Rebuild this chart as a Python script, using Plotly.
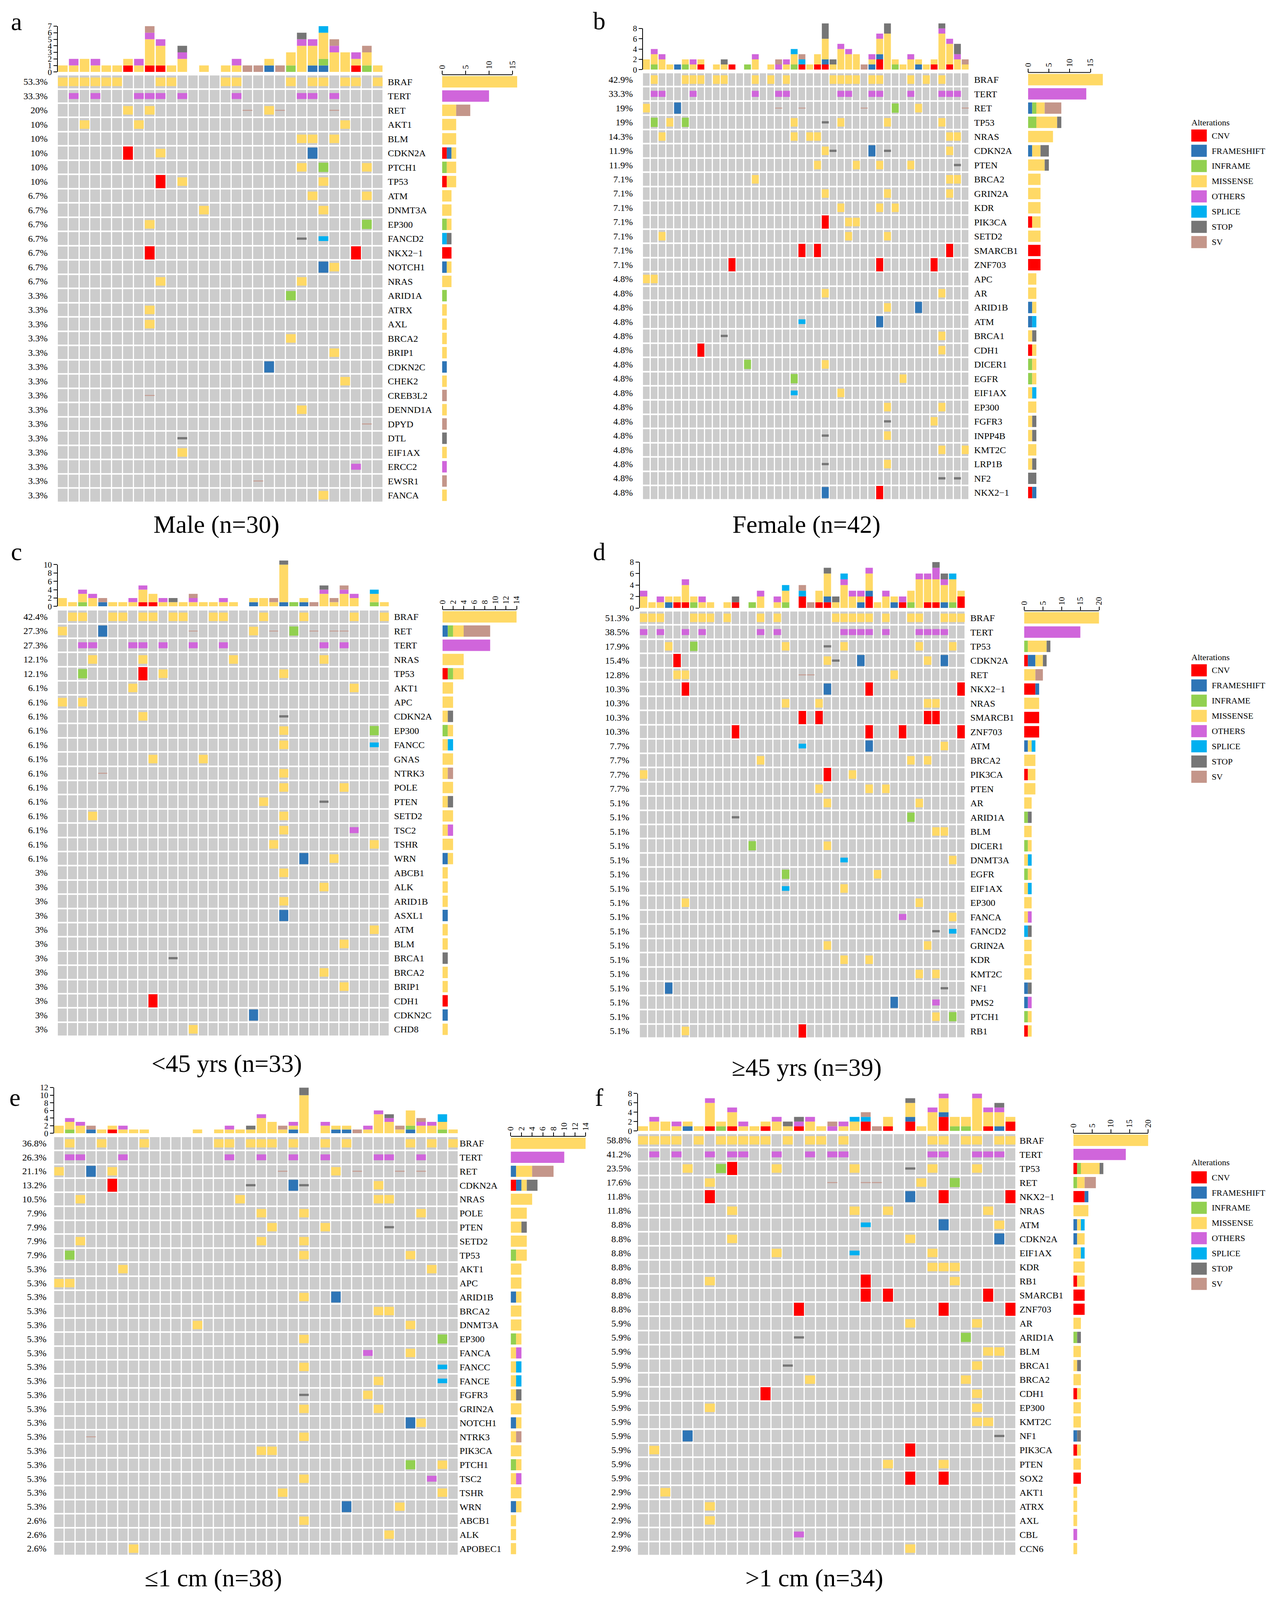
import plotly.graph_objects as go

W, H = 3287, 4727  # reference design size in px (positions below are given in these px)
FONT = "Liberation Serif"

# ---------------- alteration types ----------------
CODES = ["C", "F", "I", "M", "O", "P", "S", "V"]
TYPE_NAMES = ["CNV", "FRAMESHIFT", "INFRAME", "MISSENSE", "OTHERS", "SPLICE", "STOP", "SV"]
TYPE_COLORS = ["#FF0000", "#2E75B6", "#92D050", "#FFD966", "#D065DB", "#00B0F0", "#767676", "#C4968A"]
CELL_HEIGHTS = [0.93, 0.78, 0.65, 0.6, 0.42, 0.33, 0.16, 0.06]
GREY = "#CCCCCC"

# ---------------- panel a : Male ----------------
a_n = 30
a_genes = ["BRAF", "TERT", "RET", "AKT1", "BLM", "CDKN2A", "PTCH1", "TP53", "ATM", "DNMT3A",
           "EP300", "FANCD2", "NKX2\u22121", "NOTCH1", "NRAS", "ARID1A", "ATRX", "AXL", "BRCA2", "BRIP1",
           "CDKN2C", "CHEK2", "CREB3L2", "DENND1A", "DPYD", "DTL", "EIF1AX", "ERCC2", "EWSR1", "FANCA"]
a_pct = ["53.3%", "33.3%", "20%", "10%", "10%", "10%", "10%", "10%", "6.7%", "6.7%",
         "6.7%", "6.7%", "6.7%", "6.7%", "6.7%", "3.3%", "3.3%", "3.3%", "3.3%", "3.3%",
         "3.3%", "3.3%", "3.3%", "3.3%", "3.3%", "3.3%", "3.3%", "3.3%", "3.3%", "3.3%"]
a_alts = ["M0 M1 M2 M3 M4 M5 M9 M10 M15 M16 M21 M23 M24 M26 M27 M29",
          "O1 O3 O7 O8 O9 O11 O16 O22 O23 O25",
          "M6 M8 V17 M19 V20 V25",
          "M2 M7 M26", "M22 M23 M25", "C6 M9 F23", "M22 I24 M28", "C9 M11 M24",
          "M23 M28", "M13 M24", "M8 I28", "S22 P24", "C8 C27", "F24 M25", "M9 M22",
          "I21", "M8", "M8", "M21", "M25", "F19", "M26", "V8", "M22", "V28", "S11", "M11", "O27", "V18", "M24"]

# ---------------- panel b : Female ----------------
b_n = 42
b_genes = ["BRAF", "TERT", "RET", "TP53", "NRAS", "CDKN2A", "PTEN", "BRCA2", "GRIN2A", "KDR",
           "PIK3CA", "SETD2", "SMARCB1", "ZNF703", "APC", "AR", "ARID1B", "ATM", "BRCA1", "CDH1",
           "DICER1", "EGFR", "EIF1AX", "EP300", "FGFR3", "INPP4B", "KMT2C", "LRP1B", "NF2", "NKX2\u22121"]
b_pct = ["42.9%", "33.3%", "19%", "19%", "14.3%", "11.9%", "11.9%", "7.1%", "7.1%", "7.1%",
         "7.1%", "7.1%", "7.1%", "7.1%", "4.8%", "4.8%", "4.8%", "4.8%", "4.8%", "4.8%",
         "4.8%", "4.8%", "4.8%", "4.8%", "4.8%", "4.8%", "4.8%", "4.8%", "4.8%", "4.8%"]
b_alts = ["M1 M5 M6 M7 M9 M10 M14 M16 M18 M24 M25 M26 M27 M29 M30 M34 M36 M38",
          "O1 O2 O6 O14 O17 O18 O25 O26 O29 O30 O34 O38 O39 O40",
          "M0 F4 V17 V20 V28 I32 M35 V41",
          "I1 M3 I5 M19 S23 M25 M31 M38",
          "M2 M19 M21 M22 M39 M40",
          "M23 S24 F29 S31 M39",
          "M22 M27 M30 M34 S40",
          "M14 M39 M40", "M23 M31 M39", "M25 M30 M32", "C23 M26 M27", "M2 M26 M31",
          "C20 C22 C39", "C11 C30 C37",
          "M0 M1", "M23 M38", "M31 F35", "P20 F30", "S10 M38", "C7 M38", "I13 M23", "I19 M33",
          "P19 M25", "M31 M38", "S31 M37", "S23 M31", "M38 M41", "S23 M31", "S38 S40", "F23 C30"]

# ---------------- panel c : <45 yrs ----------------
c_n = 33
c_genes = ["BRAF", "RET", "TERT", "NRAS", "TP53", "AKT1", "APC", "CDKN2A", "EP300", "FANCC",
           "GNAS", "NTRK3", "POLE", "PTEN", "SETD2", "TSC2", "TSHR", "WRN", "ABCB1", "ALK",
           "ARID1B", "ASXL1", "ATM", "BLM", "BRCA1", "BRCA2", "BRIP1", "CDH1", "CDKN2C", "CHD8"]
c_pct = ["42.4%", "27.3%", "27.3%", "12.1%", "12.1%", "6.1%", "6.1%", "6.1%", "6.1%", "6.1%",
         "6.1%", "6.1%", "6.1%", "6.1%", "6.1%", "6.1%", "6.1%", "6.1%", "3%", "3%",
         "3%", "3%", "3%", "3%", "3%", "3%", "3%", "3%", "3%", "3%"]
c_alts = ["M1 M2 M5 M6 M8 M9 M11 M12 M15 M16 M20 M24 M29 M32",
          "M0 F4 V13 M19 V21 I23 V25 V27 V28",
          "O2 O3 O7 O8 O10 O13 O16 O26 O28",
          "M3 M8 M17 M26", "I2 C8 M10 M22",
          "M7 M29", "M0 M2", "M8 S22", "M22 I31", "M22 P31", "M9 M14", "V4 M22", "M22 M28",
          "M20 S26", "M3 M22", "M22 O29", "M21 M31", "F24 M27",
          "M22", "M26", "M22", "F22", "M31", "M28", "S11", "M26", "M28", "C9", "F19", "M13"]

# ---------------- panel d : >=45 yrs ----------------
d_n = 39
d_genes = ["BRAF", "TERT", "TP53", "CDKN2A", "RET", "NKX2\u22121", "NRAS", "SMARCB1", "ZNF703", "ATM",
           "BRCA2", "PIK3CA", "PTEN", "AR", "ARID1A", "BLM", "DICER1", "DNMT3A", "EGFR", "EIF1AX",
           "EP300", "FANCA", "FANCD2", "GRIN2A", "KDR", "KMT2C", "NF1", "PMS2", "PTCH1", "RB1"]
d_pct = ["51.3%", "38.5%", "17.9%", "15.4%", "12.8%", "10.3%", "10.3%", "10.3%", "10.3%", "7.7%",
         "7.7%", "7.7%", "7.7%", "5.1%", "5.1%", "5.1%", "5.1%", "5.1%", "5.1%", "5.1%",
         "5.1%", "5.1%", "5.1%", "5.1%", "5.1%", "5.1%", "5.1%", "5.1%", "5.1%", "5.1%"]
d_alts = ["M0 M1 M2 M6 M7 M8 M10 M14 M16 M23 M24 M25 M26 M27 M29 M32 M33 M36 M37 M38",
          "O0 O2 O5 O7 O14 O16 O24 O25 O26 O27 O29 O33 O34 O35 O36",
          "M3 I6 M17 S22 M24 M33 M37",
          "C4 M22 S23 F26 M34 F36",
          "M4 M5 V19 V20 M30",
          "C5 F22 C27 C38", "M17 M21 M34 M35", "C19 C21 C34 C35", "C11 C27 C31 C38",
          "P19 F27 M36", "M14 M32 M34", "M0 C22 M25", "M21 M27 M29",
          "M22 M33", "S11 I32", "M35 M36", "I13 M22", "P24 M37", "I17 M28", "P17 M24",
          "M5 M33", "O31 M37", "S35 P37", "M22 M34", "M24 M27", "M33 M35", "F3 S36",
          "F30 O35", "M35 I37", "M5 C19"]

# ---------------- panel e : <=1 cm ----------------
e_n = 38
e_genes = ["BRAF", "TERT", "RET", "CDKN2A", "NRAS", "POLE", "PTEN", "SETD2", "TP53", "AKT1",
           "APC", "ARID1B", "BRCA2", "DNMT3A", "EP300", "FANCA", "FANCC", "FANCE", "FGFR3", "GRIN2A",
           "NOTCH1", "NTRK3", "PIK3CA", "PTCH1", "TSC2", "TSHR", "WRN", "ABCB1", "ALK", "APOBEC1"]
e_pct = ["36.8%", "26.3%", "21.1%", "13.2%", "10.5%", "7.9%", "7.9%", "7.9%", "7.9%", "5.3%",
         "5.3%", "5.3%", "5.3%", "5.3%", "5.3%", "5.3%", "5.3%", "5.3%", "5.3%", "5.3%",
         "5.3%", "5.3%", "5.3%", "5.3%", "5.3%", "5.3%", "5.3%", "2.6%", "2.6%", "2.6%"]
e_alts = ["M1 M4 M8 M15 M16 M18 M19 M20 M22 M25 M27 M33 M35 M37",
          "O1 O2 O6 O16 O19 O22 O25 O30 O31 O34",
          "M0 F3 M5 V21 M26 V28 V32 V34",
          "C5 S18 F22 S23 M30",
          "M2 M17 M30 M31", "M19 M23 M34", "M20 M25 S31", "M2 M19 M23", "I1 M23 M33",
          "M6 M35", "M0 M1", "M23 F26", "M30 M31", "M13 M33", "M23 I36", "O29 M33",
          "M23 P36", "M30 P36", "S23 M29", "M23 M30", "F33 M34", "V3 M23", "M19 M20",
          "I33 M36", "M23 O35", "M21 M36", "F27 M32", "M23", "M31", "M7"]

# ---------------- panel f : >1 cm ----------------
f_n = 34
f_genes = ["BRAF", "TERT", "TP53", "RET", "NKX2\u22121", "NRAS", "ATM", "CDKN2A", "EIF1AX", "KDR",
           "RB1", "SMARCB1", "ZNF703", "AR", "ARID1A", "BLM", "BRCA1", "BRCA2", "CDH1", "EP300",
           "KMT2C", "NF1", "PIK3CA", "PTEN", "SOX2", "AKT1", "ATRX", "AXL", "CBL", "CCN6"]
f_pct = ["58.8%", "41.2%", "23.5%", "17.6%", "11.8%", "11.8%", "8.8%", "8.8%", "8.8%", "8.8%",
         "8.8%", "8.8%", "8.8%", "5.9%", "5.9%", "5.9%", "5.9%", "5.9%", "5.9%", "5.9%",
         "5.9%", "5.9%", "5.9%", "5.9%", "5.9%", "2.9%", "2.9%", "2.9%", "2.9%", "2.9%"]
f_alts = ["M0 M1 M2 M3 M5 M7 M8 M9 M10 M11 M13 M15 M16 M18 M26 M27 M29 M30 M32 M33",
          "O1 O3 O6 O8 O9 O12 O15 O17 O18 O26 O27 O30 O31 O32",
          "M4 I7 C8 M12 M19 S24 M26 M30",
          "M6 V17 V20 V21 M25 I28",
          "C6 F24 C27 C33", "M8 M19 M22 M31", "P20 F27 M32", "M8 M24 F32", "M12 P19 M26",
          "M26 M27 M28", "M6 C20 M28", "C20 C22 C31", "C14 C27 C33",
          "M24 M30", "S14 I29", "M31 M32", "S13 M30", "M15 M29", "C11 M30", "M6 M30",
          "M30 M31", "F4 S32", "M1 C24", "M22 M27", "C24 C27", "M2", "M6", "M6", "O14", "M24"]

# ---------------- placement (reference px) ----------------
PANELS = [
    dict(key="a", n=a_n, genes=a_genes, pct=a_pct, alts=a_alts, title="Male (n=30)",
         mx=(136, 976), my=(208, 1479), tb0=200, tbu=19.43, tbd=1, rbx=1128, rbu=12.1, rbd=5,
         pctx=113, gx=991, lab=(30, 50), tit=(546, 1545)),
    dict(key="b", n=b_n, genes=b_genes, pct=b_pct, alts=b_alts, title="Female (n=42)",
         mx=(1645, 2487), my=(201.5, 1471), tb0=193, tbu=15.3, tbd=2, rbx=2639, rbu=10.73, rbd=5,
         pctx=1622, gx=2503, lab=(1533, 48), tit=(2068, 1545)),
    dict(key="c", n=c_n, genes=c_genes, pct=c_pct, alts=c_alts, title="<45 yrs (n=33)",
         mx=(136, 992), my=(1798, 3066), tb0=1788, tbu=12.4, tbd=2, rbx=1129, rbu=13.66, rbd=2,
         pctx=113, gx=1007, lab=(30, 1626), tit=(573, 3147)),
    dict(key="d", n=d_n, genes=d_genes, pct=d_pct, alts=d_alts, title="\u226545 yrs (n=39)",
         mx=(1637, 2477), my=(1801, 3071), tb0=1793, tbu=17.1, tbd=2, rbx=2629, rbu=9.66, rbd=5,
         pctx=1613, gx=2493, lab=(1533, 1626), tit=(2068, 3158)),
    dict(key="e", n=e_n, genes=e_genes, pct=e_pct, alts=e_alts, title="\u22641 cm (n=38)",
         mx=(126.5, 1170), my=(3363, 4609), tb0=3354, tbu=11.33, tbd=2, rbx=1305, rbu=13.8, rbd=2,
         pctx=110, gx=1176, lab=(26, 3247), tit=(538, 4675)),
    dict(key="f", n=f_n, genes=f_genes, pct=f_pct, alts=f_alts, title=">1 cm (n=34)",
         mx=(1632, 2608), my=(3354, 4609), tb0=3347, tbu=13.9, tbd=2, rbx=2756, rbu=9.65, rbd=5,
         pctx=1617, gx=2620, lab=(1533, 3247), tit=(2088, 4675)),
]
LEGENDS = [(350, 389), (1939, 1978), (3440, 3485)]  # (title y, first item y)


def px(x):
    return x / W


def py(y):
    return 1 - y / H


def aname(letter, i):
    return letter if i == 1 else f"{letter}{i}"


def akey(letter, i):
    return f"{letter}axis" if i == 1 else f"{letter}axis{i}"


fig = go.Figure()
layout = {}
annotations = []
shapes = []
AXLINE = dict(color="black", width=2)

for k, P in enumerate(PANELS):
    n, genes, ng = P["n"], P["genes"], len(P["genes"])
    xt, xm, xr = 3 * k + 1, 3 * k + 2, 3 * k + 3
    yt, ym, yr = 3 * k + 1, 3 * k + 2, 3 * k + 3

    cells = {c: [] for c in CODES}
    colcnt = {c: [0] * n for c in CODES}
    rowcnt = {c: [0] * ng for c in CODES}
    for r, s in enumerate(P["alts"]):
        for tok in s.split():
            code, col = tok[0], int(tok[1:])
            cells[code].append((r, col))
            colcnt[code][col] += 1
            rowcnt[code][r] += 1

    fig.add_trace(go.Heatmap(
        x=list(range(n)), y=list(range(ng)), z=[[1] * n for _ in range(ng)],
        colorscale=[[0, GREY], [1, GREY]], showscale=False, xgap=3, ygap=4,
        hoverinfo="skip", xaxis=aname("x", xm), yaxis=aname("y", ym)))

    for ti, code in enumerate(CODES):
        pts = cells[code]
        if not pts:
            continue
        h = CELL_HEIGHTS[ti]
        fig.add_trace(go.Bar(
            x=[c for r, c in pts], y=[h] * len(pts), base=[r - h / 2 for r, c in pts],
            width=0.9, marker=dict(color=TYPE_COLORS[ti], line=dict(width=0)),
            name=TYPE_NAMES[ti], showlegend=False, hoverinfo="skip",
            xaxis=aname("x", xm), yaxis=aname("y", ym)))

    cum = [0] * n
    for ti, code in enumerate(CODES):
        vals = colcnt[code]
        fig.add_trace(go.Bar(
            x=list(range(n)), y=vals, base=list(cum), width=0.88,
            marker=dict(color=TYPE_COLORS[ti], line=dict(width=0)),
            showlegend=False, hoverinfo="skip",
            xaxis=aname("x", xt), yaxis=aname("y", yt)))
        cum = [a + b for a, b in zip(cum, vals)]
    tbmax = max(cum)

    rcum = [0] * ng
    for ti, code in enumerate(CODES):
        vals = rowcnt[code]
        fig.add_trace(go.Bar(
            y=list(range(ng)), x=vals, base=list(rcum), width=0.8, orientation="h",
            marker=dict(color=TYPE_COLORS[ti], line=dict(width=0)),
            showlegend=False, hoverinfo="skip",
            xaxis=aname("x", xr), yaxis=aname("y", yr)))
        rcum = [a + b for a, b in zip(rcum, vals)]
    rbmax = max(rcum)

    mdx = [px(P["mx"][0]), px(P["mx"][1])]
    mdy = [py(P["my"][1]), py(P["my"][0])]
    hidden = dict(visible=False, showgrid=False, zeroline=False)

    layout[akey("x", xm)] = dict(domain=mdx, range=[-0.5, n - 0.5], anchor=aname("y", ym), **hidden)
    layout[akey("y", ym)] = dict(
        domain=mdy, range=[ng - 0.5, -0.5], anchor=aname("x", xm), side="right",
        tickvals=list(range(ng)), ticktext=genes, ticks="", showgrid=False, zeroline=False,
        showline=False, tickfont=dict(family=FONT, size=24, color="black"),
        ticklabelstandoff=max(0, int(round(P["gx"] - P["mx"][1] - 4))))

    # top bar axes (axis line drawn only up to the last tick)
    tb_top = P["tb0"] - P["tbu"] * tbmax
    tick_last = (tbmax // P["tbd"]) * P["tbd"]
    layout[akey("x", xt)] = dict(domain=mdx, range=[-0.5, n - 0.5], anchor=aname("y", yt), **hidden)
    layout[akey("y", yt)] = dict(
        domain=[py(P["tb0"]), py(tb_top)], range=[0, tbmax], anchor=aname("x", xt),
        tickvals=list(range(0, tick_last + 1, P["tbd"])), ticks="outside", ticklen=9,
        tickwidth=2, showline=False, tickcolor="black",
        showgrid=False, zeroline=False, tickfont=dict(family=FONT, size=21, color="black"))
    shapes.append(dict(type="line", xref=aname("x", xt) + " domain", yref=aname("y", yt),
                       x0=0, x1=0, y0=0, y1=tick_last, line=AXLINE))

    # right bar axes
    rb_last = (rbmax // P["rbd"]) * P["rbd"]
    rbmax_r = max(rbmax, rb_last)
    layout[akey("x", xr)] = dict(
        domain=[px(P["rbx"]), px(P["rbx"] + P["rbu"] * rbmax_r)], range=[0, rbmax_r],
        anchor=aname("y", yr), side="top", tickvals=list(range(0, rb_last + 1, P["rbd"])),
        ticks="outside", ticklen=9, tickwidth=2, showline=False, tickcolor="black",
        tickangle=-90, showgrid=False, zeroline=False,
        tickfont=dict(family=FONT, size=21, color="black"))
    layout[akey("y", yr)] = dict(domain=mdy, range=[ng - 0.5, -0.5], anchor=aname("x", xr), **hidden)
    shapes.append(dict(type="line", xref=aname("x", xr), yref=aname("y", yr) + " domain",
                       x0=0, x1=rb_last, y0=1, y1=1, line=AXLINE))

    for r, lab in enumerate(P["pct"]):
        annotations.append(dict(
            text=lab, x=px(P["pctx"]), xref="paper", y=r, yref=aname("y", ym),
            xanchor="right", yanchor="middle", showarrow=False,
            font=dict(family=FONT, size=24, color="black")))

    annotations.append(dict(text=P["key"], x=px(P["lab"][0]), y=py(P["lab"][1]), xref="paper",
                            yref="paper", xanchor="center", yanchor="middle", showarrow=False,
                            font=dict(family=FONT, size=64, color="black")))
    annotations.append(dict(text=P["title"], x=px(P["tit"][0]), y=py(P["tit"][1]), xref="paper",
                            yref="paper", xanchor="center", yanchor="middle", showarrow=False,
                            font=dict(family=FONT, size=64, color="black")))

for ty, iy in LEGENDS:
    annotations.append(dict(text="Alterations", x=px(3058), y=py(ty), xref="paper", yref="paper",
                            xanchor="left", yanchor="middle", showarrow=False,
                            font=dict(family=FONT, size=22, color="black")))
    for i, (nm, colr) in enumerate(zip(TYPE_NAMES, TYPE_COLORS)):
        cy = iy + i * 45.2
        shapes.append(dict(type="rect", xref="paper", yref="paper", x0=px(3060), x1=px(3100),
                           y0=py(cy + 18), y1=py(cy - 18), fillcolor=colr, line=dict(width=0)))
        annotations.append(dict(text=nm, x=px(3111), y=py(cy), xref="paper", yref="paper",
                                xanchor="left", yanchor="middle", showarrow=False,
                                font=dict(family=FONT, size=22, color="black")))

fig.update_layout(
    autosize=True, margin=dict(l=0, r=0, t=0, b=0, pad=0), paper_bgcolor="white",
    plot_bgcolor="rgba(0,0,0,0)", barmode="overlay", showlegend=False,
    annotations=annotations, shapes=shapes, font=dict(family=FONT, color="black"), **layout)

POST = ("document.documentElement.style.margin='0';document.body.style.margin='0';"
        "document.body.style.overflow='hidden';"
        "var gd=document.getElementById('{plot_id}');gd.style.width='100vw';gd.style.height='100vh';"
        "Plotly.Plots.resize(gd);")

fig.write_html("out.html", default_width="100vw", default_height="100vh",
               config={"responsive": True, "displayModeBar": False}, post_script=POST)
